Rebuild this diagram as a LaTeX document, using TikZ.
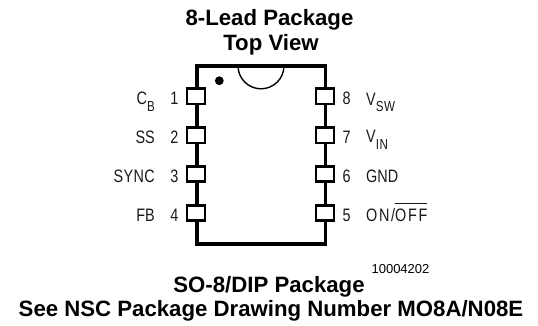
\documentclass[tikz,border=0pt]{standalone}
\usepackage{fontspec}
\setmainfont{Liberation Sans}
\newcommand\ovl[1]{\setbox0\hbox{#1}\rlap{\raisebox{17.3pt}{\rule{\wd0}{1.1pt}}}\box0}
\newcommand\subtxt[2]{\raisebox{-#1}{\fontsize{14.5}{14.5}\selectfont\addfontfeature{LetterSpace=6}#2}}
\begin{document}
\begin{tikzpicture}[x=1pt,y=-1pt,
  titletext/.style={font=\fontsize{22.2}{24}\selectfont\bfseries,inner sep=0pt,anchor=base},
  pinbox/.style={draw=black,line width=2.7pt,fill=white,minimum width=18pt,minimum height=15.4pt,inner sep=0pt},
  pinlabel/.style={font=\fontsize{18}{20}\selectfont,inner sep=0pt,text=black!90,xscale=.8},
  lead/.style={line width=3.6pt},
  edge/.style={line width=4.6pt}]
\useasboundingbox (0,0) rectangle (538,325);
\node[titletext] (t1) at (269.5,25) {8-Lead Package};
\node[titletext] (t2) at (271,50) {Top View};
\coordinate (tl) at (197,65.8); \coordinate (tr) at (325.3,65.8);
\coordinate (bl) at (197,244); \coordinate (br) at (325.3,244);
\draw[edge,shorten <=-1.8pt,shorten >=-1.8pt] (tl) -- (tr);
\draw[edge,shorten <=-1.8pt,shorten >=-1.8pt] (bl) -- (br);
\draw[lead] (tl) -- (bl);
\draw[lead] (tr) -- (br);
\draw[line width=1.4pt] (238,65.8) arc[start angle=180,end angle=0,radius=23];
\fill (219.3,80.7) circle[radius=4.4] coordinate (dot);
\foreach \n/\y/\b in {1/96.3/104.5,2/135.2/143,3/174.1/182,4/213/221}{
  \node[pinbox] (p\n) at (196,\y) {};
  \node[pinlabel,anchor=base east] (n\n) at (178.5,\b) {\n};
}
\foreach \n/\y/\b in {8/96.3/104.5,7/135.2/143,6/174.1/182,5/213/221}{
  \node[pinbox] (p\n) at (325,\y) {};
  \node[pinlabel,anchor=base west] (n\n) at (342.5,\b) {\n};
}
\node[pinlabel,anchor=base east] (cb) at (155,104) {C\subtxt{7.5pt}{B}};
\node[pinlabel,anchor=base east] (ss) at (155,143) {SS};
\node[pinlabel,anchor=base east] (sync) at (155,182) {\addfontfeature{LetterSpace=3}SYNC};
\node[pinlabel,anchor=base east] (fb) at (155,221) {FB};
\node[pinlabel,anchor=base west] (vsw) at (366,105) {V\subtxt{6pt}{SW}};
\node[pinlabel,anchor=base west] (vin) at (366,142.5) {V\subtxt{7pt}{IN}};
\node[pinlabel,anchor=base west] (gnd) at (366,182) {GND};
\node[pinlabel,anchor=base west] (onoff) at (366,221) {\addfontfeature{LetterSpace=12}ON/\ovl{OFF}};
\node[font=\fontsize{13}{15}\selectfont,inner sep=0pt,anchor=base] (code) at (400.5,273) {10004202};
\node[titletext] (b1) at (269,292.7) {SO-8/DIP Package};
\node[titletext] (b2) at (271,316.7) {See NSC Package Drawing Number MO8A/N08E};
\end{tikzpicture}
\end{document}
